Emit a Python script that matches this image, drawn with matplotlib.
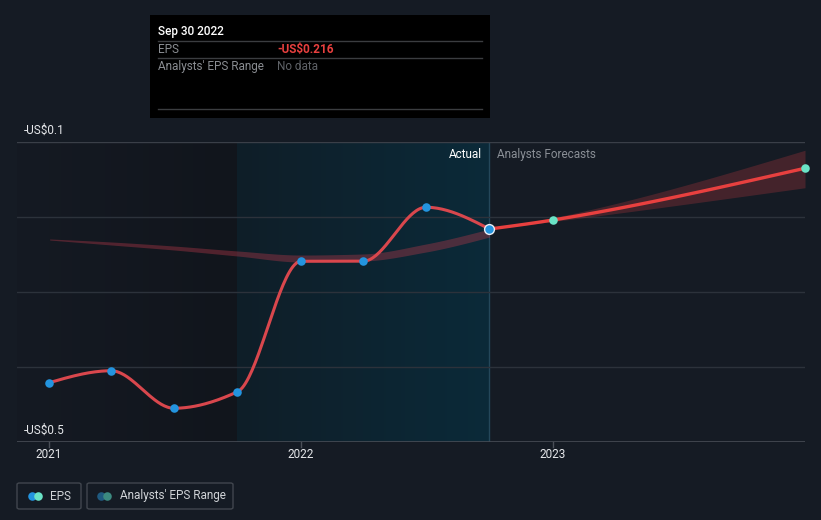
import numpy as np
import matplotlib
matplotlib.use("Agg")
import matplotlib.pyplot as plt
from matplotlib.patches import FancyBboxPatch, Rectangle
from matplotlib.colors import LinearSegmentedColormap
import datetime as dt

plt.rcParams['font.family'] = ['Roboto', 'DejaVu Sans']

# ---------------- data ----------------
actual_dates = ["2020-12-31", "2021-03-31", "2021-06-30", "2021-09-30",
                "2021-12-31", "2022-03-31", "2022-06-30", "2022-09-30"]
actual_eps = [-0.421, -0.405, -0.455, -0.433, -0.259, -0.259, -0.187, -0.216]

forecast_dates = ["2022-09-30", "2022-12-31", "2023-12-31"]
forecast_eps = [-0.216, -0.204, -0.135]
forecast_low = [-0.216, -0.206, -0.161]
forecast_high = [-0.216, -0.201, -0.111]

past_band_dates = ["2021-01-01", "2021-03-31", "2021-06-30", "2021-09-30",
                   "2021-12-31", "2022-03-31", "2022-06-30", "2022-09-30"]
past_band_high = [-0.2293, -0.2333, -0.2387, -0.2453, -0.2507, -0.2493, -0.2360, -0.2160]
past_band_low = [-0.2307, -0.2373, -0.2440, -0.2520, -0.2600, -0.2587, -0.2467, -0.2267]

x_ticks = ["2021", "2022", "2023"]
y_labels = ["-US$0.1", "-US$0.5"]

BG = "#151b24"
FS = 8.5
MS = 38

def dyear(s):
    d = dt.date.fromisoformat(s)
    start = dt.date(d.year, 1, 1)
    n = (dt.date(d.year + 1, 1, 1) - start).days
    return d.year + ((d - start).days + 1) / n

def monotone(x, y, n=40):
    x = np.asarray(x, float); y = np.asarray(y, float)
    h = np.diff(x); d = np.diff(y) / h
    m = np.zeros_like(y)
    m[0] = d[0]; m[-1] = d[-1]
    for i in range(1, len(y) - 1):
        if d[i - 1] * d[i] <= 0:
            m[i] = 0
        else:
            w1 = 2 * h[i] + h[i - 1]; w2 = h[i] + 2 * h[i - 1]
            m[i] = (w1 + w2) / (w1 / d[i - 1] + w2 / d[i])
    if len(y) > 2:
        m[0] = (3 * d[0] - m[1]) / 2 if d[0] != 0 else 0
        m[-1] = (3 * d[-1] - m[-2]) / 2 if d[-1] != 0 else 0
    xs, ys = [], []
    for i in range(len(h)):
        t = np.linspace(0, 1, n)
        h00 = 2*t**3 - 3*t**2 + 1; h10 = t**3 - 2*t**2 + t
        h01 = -2*t**3 + 3*t**2; h11 = t**3 - t**2
        xs.append(x[i] + t * h[i])
        ys.append(h00*y[i] + h10*h[i]*m[i] + h01*y[i+1] + h11*h[i]*m[i+1])
    return np.concatenate(xs), np.concatenate(ys)

ax_x = [dyear(s) for s in actual_dates]
fx = [dyear(s) for s in forecast_dates]
px = [dyear(s) for s in past_band_dates]

W, H = 821, 520
fig = plt.figure(figsize=(W / 100, H / 100), dpi=100, facecolor=BG)
ax = fig.add_axes([17 / W, (H - 442) / H, (805 - 17) / W, 300 / H])
ax.set_facecolor(BG)
x0, x1 = 2021 - 32 / 252, 2024.0
for s in ax.spines.values():
    s.set_visible(False)
ax.set_xticks([]); ax.set_yticks([])

# background regions
xa = 2021 + (237 - 49) / 252
xb = dyear("2022-09-30")
g1 = np.linspace(0, 1, 256).reshape(1, -1)
cm1 = LinearSegmentedColormap.from_list("d", ["#151a23", "#11151c"])
ax.imshow(g1, extent=[x0, xa, -0.5, -0.1], aspect="auto", cmap=cm1, zorder=0)
cm2 = LinearSegmentedColormap.from_list("t", ["#0f1e28", "#0b2a39"])
ax.imshow(g1, extent=[xa, xb, -0.5, -0.1], aspect="auto", cmap=cm2, zorder=0)
ax.set_xlim(x0, x1); ax.set_ylim(-0.5, -0.1)
ax.axvline(xb, color="#24475a", lw=1, zorder=1)

# gridlines
for v in [-0.2, -0.3, -0.4]:
    ax.axhline(v, color="#2c323b", lw=1, zorder=1)
ax.axhline(-0.1, color="#3a3f48", lw=1, zorder=1)
ax.axhline(-0.5, color="#474c55", lw=1.2, zorder=1)

# past estimate band
bx, bh = monotone(px, past_band_high)
_, bl = monotone(px, past_band_low)
ax.fill_between(bx, bl, bh, color="#b8394a", alpha=0.38, lw=0, zorder=2)

# forecast band
fbx, fbh = monotone(fx, forecast_high)
_, fbl = monotone(fx, forecast_low)
ax.fill_between(fbx, fbl, fbh, color="#c0393f", alpha=0.28, lw=0, zorder=2)

# lines
lx, ly = monotone(ax_x, actual_eps)
ax.plot(lx, ly, color="#d9474d", lw=2.2, zorder=3, solid_capstyle="round")
flx, fly = monotone(fx, forecast_eps)
ax.plot(flx, fly, color="#e8403f", lw=2.4, zorder=3, solid_capstyle="round")

ax.scatter(ax_x[:-1], actual_eps[:-1], s=MS, color="#2394df", zorder=4, lw=0)
ax.scatter(ax_x[-1:], actual_eps[-1:], s=MS + 12, color="#2394df", edgecolor="#e8eef5", lw=1.0, zorder=5)
ax.scatter(fx[1:], forecast_eps[1:], s=MS, color="#6ae3c6", zorder=4, lw=0, clip_on=False)

ax.text(xb - 0.03, -0.1165, "Actual", color="#ffffff", fontsize=FS, ha="right", va="center", zorder=6)
ax.text(xb + 0.03, -0.1165, "Analysts Forecasts", color="#8a8f96", fontsize=FS, ha="left", va="center", zorder=6)

def fy(y):
    return 1 - y / H
def fxp(x):
    return x / W

fig.text(fxp(24), fy(130), y_labels[0], color="#e6e8eb", fontsize=FS, va="center")
fig.text(fxp(24), fy(430), y_labels[1], color="#e6e8eb", fontsize=FS, va="center")
for lab in x_ticks:
    xv = int(lab)
    px_ = 49 + (xv - 2021) * 252
    fig.text(fxp(px_), fy(455), lab, color="#e6e8eb", fontsize=FS, ha="center", va="center")
    fig.add_artist(plt.Line2D([fxp(px_), fxp(px_)], [fy(442), fy(447)], color="#4a4f58", lw=1))

# tooltip
tip = Rectangle((fxp(150), fy(118)), 340 / W, 103 / H, transform=fig.transFigure,
                facecolor="#000000", edgecolor="none", zorder=10)
fig.add_artist(tip)
fig.text(fxp(158), fy(31), "Sep 30 2022", color="#ffffff", fontsize=FS, va="center", fontweight="medium", zorder=11)
for yl in [41, 58, 109]:
    fig.add_artist(plt.Line2D([fxp(158), fxp(482)], [fy(yl), fy(yl)], color="#3b3d40", lw=1, zorder=11))
fig.text(fxp(158), fy(49.5), "EPS", color="#8a8d92", fontsize=FS, va="center", zorder=11)
fig.text(fxp(277), fy(49.5), "-US$0.216", color="#e8403f", fontsize=FS, va="center", fontweight="bold", zorder=11)
fig.text(fxp(158), fy(66.5), "Analysts' EPS Range", color="#8a8d92", fontsize=FS, va="center", zorder=11)
fig.text(fxp(277), fy(66.5), "No data", color="#5f6267", fontsize=FS, va="center", zorder=11)

# legend
fig.add_artist(FancyBboxPatch((fxp(17), fy(509)), 64 / W, 26 / H, transform=fig.transFigure,
                              boxstyle="round,pad=0,rounding_size=0.003", facecolor="none",
                              edgecolor="#41464e", lw=1))
fig.add_artist(FancyBboxPatch((fxp(87), fy(509)), 146 / W, 26 / H, transform=fig.transFigure,
                              boxstyle="round,pad=0,rounding_size=0.003", facecolor="none",
                              edgecolor="#41464e", lw=1))
lax = fig.add_axes([0, 0, 1, 1], facecolor="none")
lax.set_xlim(0, W); lax.set_ylim(H, 0); lax.axis("off")
lax.scatter([32], [496], s=MS, color="#2394df", lw=0, zorder=3)
lax.scatter([38], [496], s=MS, color="#6ae3c6", lw=0, zorder=4)
lax.scatter([101], [496], s=MS, color="#1f5a80", lw=0, zorder=3)
lax.scatter([107], [496], s=MS, color="#3c8a80", lw=0, zorder=4)
fig.text(fxp(50), fy(496), "EPS", color="#d0d3d7", fontsize=FS, va="center")
fig.text(fxp(120), fy(496), "Analysts' EPS Range", color="#d0d3d7", fontsize=FS, va="center")

fig.savefig("out.png", dpi=100, facecolor=BG)
